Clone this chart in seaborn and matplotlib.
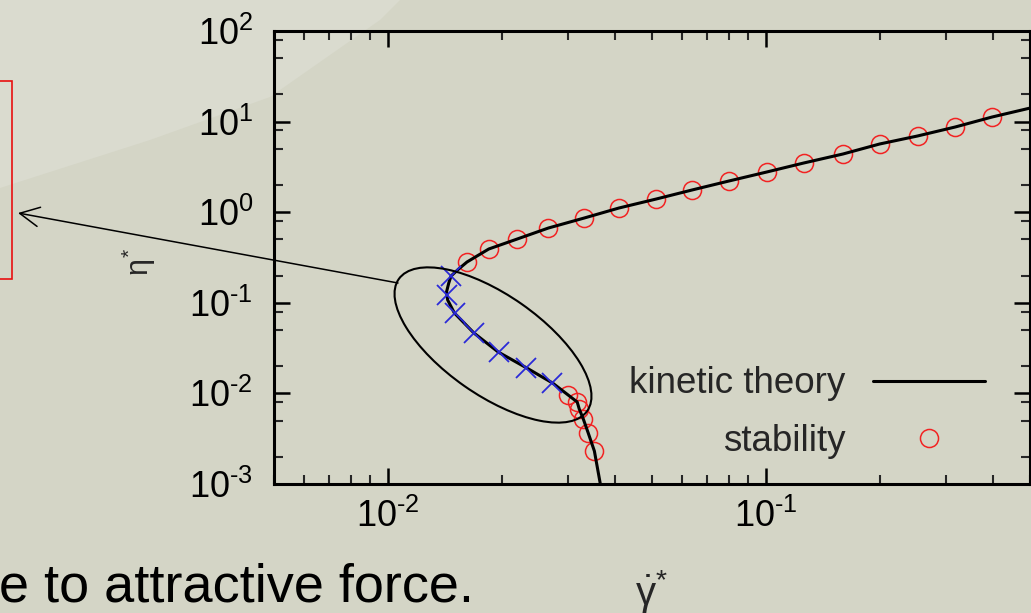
import numpy as np
import pandas as pd
import matplotlib
matplotlib.use("Agg")
import matplotlib.pyplot as plt
import seaborn as sns
from matplotlib import font_manager
from matplotlib.patches import Ellipse, Rectangle, FancyArrowPatch, Polygon
from matplotlib.ticker import FixedLocator, FixedFormatter, LogLocator, NullFormatter

# ---------------- data ----------------
kt_x = [0.0365, 0.0352, 0.0339, 0.0329, 0.0321, 0.0317, 0.0300, 0.0273, 0.0233,
        0.0196, 0.0169, 0.0150, 0.0144, 0.0143, 0.0145, 0.0147, 0.0154, 0.0162,
        0.0185, 0.0220, 0.0266, 0.0331, 0.0409, 0.0513, 0.0638, 0.0799, 0.1006,
        0.126, 0.160, 0.200, 0.252, 0.317, 0.397, 0.50]
kt_y = [0.001, 0.00231, 0.00366, 0.00522, 0.00673, 0.00804, 0.0096, 0.0130, 0.0191,
        0.0286, 0.0464, 0.0772, 0.1074, 0.1316, 0.1654, 0.1976, 0.2361, 0.282,
        0.3925, 0.506, 0.669, 0.863, 1.113, 1.398, 1.758, 2.21, 2.778,
        3.492, 4.389, 5.658, 6.937, 8.717, 11.24, 14.1]

stab_x = [0.0162, 0.0185, 0.0220, 0.0266, 0.0331, 0.0409, 0.0513, 0.0638, 0.0799,
          0.1006, 0.126, 0.160, 0.200, 0.252, 0.317, 0.397,
          0.0300, 0.0317, 0.0321, 0.0329, 0.0339, 0.0352]
stab_y = [0.282, 0.3925, 0.506, 0.669, 0.863, 1.113, 1.398, 1.758, 2.21,
          2.778, 3.492, 4.389, 5.658, 6.937, 8.717, 11.24,
          0.0096, 0.00804, 0.00673, 0.00522, 0.00366, 0.00231]

unst_x = [0.01466, 0.01431, 0.01502, 0.01686, 0.01963, 0.02327, 0.02725]
unst_y = [0.1976, 0.1220, 0.0772, 0.0464, 0.0286, 0.0191, 0.0130]

x_ticks = [1e-2, 1e-1]
x_tick_labels = ["$\\mathdefault{10^{\u2010" + "2}}$", "$\\mathdefault{10^{\u2010" + "1}}$"]
y_ticks = [1e-3, 1e-2, 1e-1, 1e0, 1e1, 1e2]
y_tick_labels = ["$\\mathdefault{10^{\u2010" + "3}}$", "$\\mathdefault{10^{\u2010" + "2}}$",
                 "$\\mathdefault{10^{\u2010" + "1}}$", r"$\mathdefault{10^{0}}$",
                 r"$\mathdefault{10^{1}}$", r"$\mathdefault{10^{2}}$"]
legend_labels = ["kinetic theory", "stability"]
x_label = r"$\dot{\gamma}^{*}$"
y_label = r"$\eta^{*}$"
slide_text = "e to attractive force."

# ---------------- style ----------------
sns.set_style("ticks")
names = {f.name for f in font_manager.fontManager.ttflist}
if "Liberation Sans Narrow" in names:
    tick_family, tick_fs = "Liberation Sans Narrow", 27.5
else:
    tick_family, tick_fs = "Liberation Sans", 26
plt.rcParams["font.family"] = [tick_family, "DejaVu Sans"]
plt.rcParams["mathtext.fontset"] = "custom"
plt.rcParams["mathtext.rm"] = "Liberation Sans"
plt.rcParams["mathtext.it"] = "Liberation Sans"
plt.rcParams["mathtext.bf"] = "Liberation Sans:bold"
plt.rcParams["mathtext.sf"] = "Liberation Sans"

W, H = 1031, 613
BG = "#d4d5c6"
fig = plt.figure(figsize=(W / 100, H / 100), dpi=100, facecolor=BG)


def P(x, y):
    return (x / 100.0, (H - y) / 100.0)


# background lighter band (slide)
light = Polygon([P(0, 0), P(0, 188), P(150, 140), P(270, 97), P(380, 20), P(400, 0)],
                closed=True, transform=fig.dpi_scale_trans, facecolor="#dadbcf",
                edgecolor="none", zorder=-5)
fig.add_artist(light)

ax = fig.add_axes([274 / W, (H - 484) / H, (1030 - 274) / W, (484 - 31) / H])
ax.set_facecolor("none")
ax.set_xscale("log")
ax.set_yscale("log")

red = "#f22222"
blue = "#2a2ad8"

sns.lineplot(x=kt_x, y=kt_y, sort=False, estimator=None, color="black",
             linewidth=2.2, ax=ax, label=legend_labels[0], zorder=3)
sns.lineplot(x=stab_x, y=stab_y, sort=False, estimator=None, linestyle="none",
             marker="o", markersize=13, markerfacecolor="none", markeredgecolor=red,
             markeredgewidth=1.1, color=red, ax=ax, label=legend_labels[1], zorder=2)
sns.lineplot(x=unst_x, y=unst_y, sort=False, estimator=None, linestyle="none",
             marker="x", markersize=14, markeredgecolor=blue, markeredgewidth=1.3,
             color=blue, ax=ax, zorder=4)

ax.set_xlim(5e-3, 0.5)
ax.set_ylim(1e-3, 1e2)

ax.xaxis.set_major_locator(FixedLocator(x_ticks))
ax.xaxis.set_major_formatter(FixedFormatter(x_tick_labels))
ax.xaxis.set_minor_locator(LogLocator(base=10, subs=(2, 3, 4, 5, 6, 7, 8, 9), numticks=20))
ax.xaxis.set_minor_formatter(NullFormatter())
ax.yaxis.set_major_locator(FixedLocator(y_ticks))
ax.yaxis.set_major_formatter(FixedFormatter(y_tick_labels))
ax.yaxis.set_minor_locator(LogLocator(base=10, subs=(2, 5, 8), numticks=20))
ax.yaxis.set_minor_formatter(NullFormatter())

ax.tick_params(which="major", direction="in", length=11.5, width=1.8, top=True,
               right=True, labelsize=tick_fs, colors="black")
ax.tick_params(which="minor", direction="in", length=6.5, width=1.5, top=True, right=True)
ax.tick_params(axis="x", which="major", pad=11)
ax.tick_params(axis="y", which="major", pad=15)
for s in ax.spines.values():
    s.set_linewidth(2.2)
    s.set_color("black")
    s.set_visible(True)

ax.set_xlabel(x_label, fontsize=29)
ax.set_ylabel(y_label, fontsize=22)
ax.xaxis.set_label_coords(0.5, -0.185)
ax.yaxis.set_label_coords(-0.153, 0.49)

handles, labels = ax.get_legend_handles_labels()
ax.legend(handles, labels, loc="center right", bbox_to_anchor=(985 / W, (H - 412.5) / H),
          bbox_transform=fig.transFigure, frameon=False, markerfirst=False,
          handlelength=3.05, handletextpad=0.75, labelspacing=0.6, borderpad=0,
          borderaxespad=0, prop={"family": "Liberation Sans", "size": 26.5})

# annotation: ellipse, arrow, red box, slide text
ell = Ellipse(P(493, 345), width=2.30, height=1.00, angle=-35,
              transform=fig.dpi_scale_trans, fill=False, linewidth=1.5,
              edgecolor="black", zorder=6)
fig.add_artist(ell)
arr = FancyArrowPatch(P(398, 283), P(18, 213), transform=fig.dpi_scale_trans,
                      arrowstyle="->,head_length=1.0,head_width=0.5", mutation_scale=14,
                      linewidth=1.1, color="black", shrinkA=0, shrinkB=0, zorder=6)
fig.add_artist(arr)
box = Rectangle(P(-10, 279), 0.22, 1.98, transform=fig.dpi_scale_trans, fill=False,
                edgecolor="#e81010", linewidth=1.2, zorder=6)
fig.add_artist(box)
fig.text(*P(-1, 601), slide_text, transform=fig.dpi_scale_trans, ha="left",
         va="baseline", fontsize=39, family="Liberation Sans", color="black")

fig.savefig("out.png", dpi=100, facecolor=BG)
